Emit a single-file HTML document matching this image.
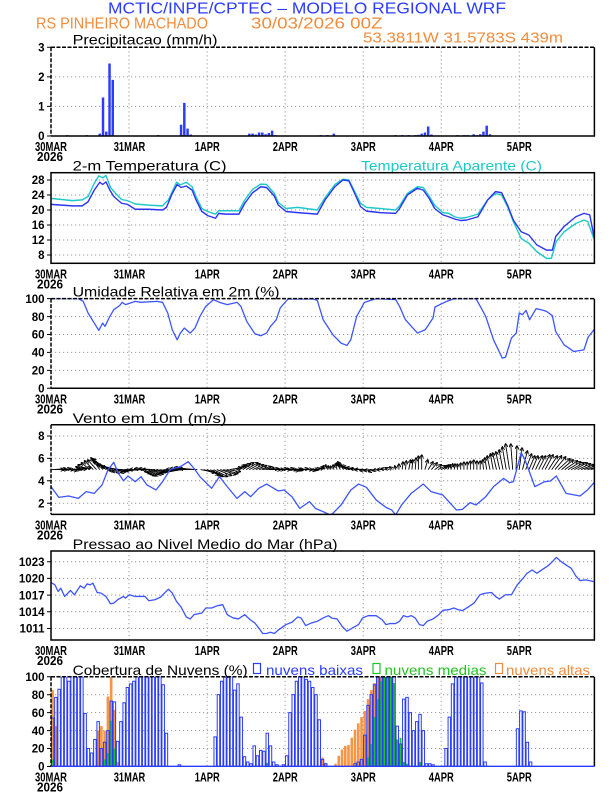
<!DOCTYPE html>
<html><head><meta charset="utf-8"><style>html,body{margin:0;padding:0;background:#fff}svg{display:block}</style></head>
<body>
<svg width="612" height="792" viewBox="0 0 612 792" xmlns="http://www.w3.org/2000/svg" font-family="'Liberation Sans', sans-serif">
<rect width="612" height="792" fill="#fff"/>
<defs>
<clipPath id="c0"><rect x="51" y="47.3" width="543.4" height="88.7"/></clipPath>
<clipPath id="c1"><rect x="51" y="172.7" width="543.4" height="90.6"/></clipPath>
<clipPath id="c2"><rect x="51" y="298.6" width="543.4" height="89.7"/></clipPath>
<clipPath id="c3"><rect x="51" y="424.8" width="543.4" height="89.6"/></clipPath>
<clipPath id="c4"><rect x="51" y="551" width="543.4" height="89"/></clipPath>
<clipPath id="c5"><rect x="51" y="676.7" width="543.4" height="89.8"/></clipPath>
<marker id="ah" viewBox="0 0 6 6" refX="5.5" refY="3" markerWidth="4" markerHeight="4" orient="auto" markerUnits="userSpaceOnUse"><path d="M0 0L6 3L0 6" fill="none" stroke="#000" stroke-width="1.4"/></marker>
</defs>

<!-- header -->
<text x="108" y="13.3" font-size="16" fill="#2a3cff" textLength="398" lengthAdjust="spacingAndGlyphs">MCTIC/INPE/CPTEC – MODELO REGIONAL WRF</text>
<text x="36" y="28.3" font-size="16" fill="#f08c3c" textLength="172" lengthAdjust="spacingAndGlyphs">RS PINHEIRO MACHADO</text>
<text x="251" y="28.3" font-size="16" fill="#f08c3c" textLength="131.5" lengthAdjust="spacingAndGlyphs">30/03/2026 00Z</text>
<text x="363" y="42.7" font-size="15" fill="#f08c3c" textLength="200" lengthAdjust="spacingAndGlyphs">53.3811W 31.5783S 439m</text>

<!-- panel titles -->
<g font-size="14" fill="#000">
<text x="72.6" y="44.5" textLength="145" lengthAdjust="spacingAndGlyphs">Precipitacao (mm/h)</text>
<text x="72.6" y="170.5" textLength="154" lengthAdjust="spacingAndGlyphs">2-m Temperatura (C)</text>
<text x="361" y="170.5" fill="#1fc8c8" textLength="181" lengthAdjust="spacingAndGlyphs">Temperatura Aparente (C)</text>
<text x="72.6" y="296.7" textLength="207" lengthAdjust="spacingAndGlyphs">Umidade Relativa em 2m (%)</text>
<text x="72.6" y="423" textLength="154" lengthAdjust="spacingAndGlyphs">Vento em 10m (m/s)</text>
<text x="72.6" y="549" textLength="265" lengthAdjust="spacingAndGlyphs">Pressao ao Nivel Medio do Mar (hPa)</text>
<text x="72.6" y="675" textLength="175" lengthAdjust="spacingAndGlyphs">Cobertura de Nuvens (%)</text>
<rect x="253.5" y="663.5" width="7" height="10" fill="none" stroke="#2a3cff" stroke-width="1.2"/>
<text x="266" y="675" fill="#2a3cff" textLength="97" lengthAdjust="spacingAndGlyphs">nuvens baixas</text>
<rect x="373" y="663.5" width="7" height="10" fill="none" stroke="#22c422" stroke-width="1.2"/>
<text x="384.5" y="675" fill="#22c422" textLength="102" lengthAdjust="spacingAndGlyphs">nuvens medias</text>
<rect x="495.5" y="663.5" width="7" height="10" fill="none" stroke="#f08c3c" stroke-width="1.2"/>
<text x="506" y="675" fill="#f08c3c" textLength="84" lengthAdjust="spacingAndGlyphs">nuvens altas</text>
</g>

<!-- grids -->
<g stroke="#999" stroke-width="1" stroke-dasharray="1.2 2.8" fill="none">
<path d="M129.04 47.3V136M207.07 47.3V136M285.11 47.3V136M363.15 47.3V136M441.18 47.3V136M519.22 47.3V136M51 106.4H594.4M51 76.9H594.4"/>
<path d="M129.04 172.7V263.3M207.07 172.7V263.3M285.11 172.7V263.3M363.15 172.7V263.3M441.18 172.7V263.3M519.22 172.7V263.3M51 180H594.4M51 195H594.4M51 210H594.4M51 225H594.4M51 240H594.4M51 255H594.4"/>
<path d="M129.04 298.6V388.3M207.07 298.6V388.3M285.11 298.6V388.3M363.15 298.6V388.3M441.18 298.6V388.3M519.22 298.6V388.3M51 316.6H594.4M51 334.5H594.4M51 352.4H594.4M51 370.4H594.4"/>
<path d="M129.04 424.8V514.4M207.07 424.8V514.4M285.11 424.8V514.4M363.15 424.8V514.4M441.18 424.8V514.4M519.22 424.8V514.4M51 436H594.4M51 458.4H594.4M51 480.8H594.4M51 503.2H594.4"/>
<path d="M129.04 551V640M207.07 551V640M285.11 551V640M363.15 551V640M441.18 551V640M519.22 551V640M51 561.7H594.4M51 578.4H594.4M51 595.1H594.4M51 611.8H594.4M51 628.5H594.4"/>
<path d="M129.04 676.7V766.5M207.07 676.7V766.5M285.11 676.7V766.5M363.15 676.7V766.5M441.18 676.7V766.5M519.22 676.7V766.5M51 694.7H594.4M51 712.6H594.4M51 730.6H594.4M51 748.5H594.4"/>
</g>

<!-- precip bars -->
<g clip-path="url(#c0)"><g transform="matrix(3.2515 0 0 -29.57 51 136)">
<path fill="#2a3cff" d="M4.62 0V.03H5.38V0ZM10.62 0V.03H11.38V0ZM14.62 0V.08H15.38V0ZM15.62 0V1.3H16.38V0ZM16.62 0V.15H17.38V0ZM17.62 0V2.45H18.38V0ZM18.62 0V1.9H19.38V0ZM32.62 0V.03H33.38V0ZM39.62 0V.38H40.38V0ZM40.62 0V1.12H41.38V0ZM41.62 0V.25H42.38V0ZM42.62 0V.05H43.38V0ZM60.62 0V.08H61.38V0ZM61.62 0V.08H62.38V0ZM62.62 0V.05H63.38V0ZM63.62 0V.12H64.38V0ZM64.62 0V.12H65.38V0ZM65.62 0V.06H66.38V0ZM66.62 0V.1H67.38V0ZM67.62 0V.18H68.38V0ZM68.62 0V.03H69.38V0ZM82.62 0V.03H83.38V0ZM84.62 0V.03H85.38V0ZM86.62 0V.08H87.38V0ZM105.62 0V.03H106.38V0ZM107.62 0V.03H108.38V0ZM109.62 0V.03H110.38V0ZM111.62 0V.03H112.38V0ZM112.62 0V.04H113.38V0ZM113.62 0V.08H114.38V0ZM114.62 0V.12H115.38V0ZM115.62 0V.32H116.38V0ZM116.62 0V.05H117.38V0ZM124.62 0V.03H125.38V0ZM126.62 0V.03H127.38V0ZM127.62 0V.03H128.38V0ZM129.62 0V.06H130.38V0ZM130.62 0V.03H131.38V0ZM131.62 0V.06H132.38V0ZM132.62 0V.15H133.38V0ZM133.62 0V.35H134.38V0ZM134.62 0V.06H135.38V0Z"/>
</g></g>

<!-- temperature -->
<g clip-path="url(#c1)"><g transform="matrix(3.2515 0 0 -3.75 51 285)" fill="none" stroke-width="1.4" stroke-linejoin="round">
<polyline vector-effect="non-scaling-stroke" stroke="#1fc8c8" points="0,23.1 6.6,22.5 9.6,22.7 11.4,23.6 13.3,27.1 14.7,29.1 15.9,28.6 16.9,29.2 18.3,26 19.9,24.4 21.7,22.8 23.5,22.5 25.9,21.6 30,21.3 34.3,21.1 36.1,22.7 38.6,27.4 39.8,26.7 41.6,27.4 43.4,26.2 44.6,23.6 46.4,20.4 48.2,19.6 50.6,18.9 51.6,19.8 53.6,19.8 57.8,19.8 59.6,22.7 62,25.5 64.5,26.9 66.3,26.8 68.7,24.4 69.9,22 72.3,20.4 75.9,20.7 81.9,20 84.3,23.3 87.3,26.8 89.8,28.2 91.6,28 93.4,24.9 95.2,21.8 97,20.7 101.2,20.4 106,20 107.2,21.1 109.6,24.4 112.7,26.2 114.5,26 116.3,23.7 118,21.3 120.5,19.3 122.3,19.1 124.1,18.2 125.9,17.8 127.7,18 131.3,18.9 134.3,22.7 136.7,24.4 138.6,24 140.4,20.9 142.2,16.9 144.6,12.4 147,11.1 149.4,8.9 152.4,7.1 153.9,7.1 155.4,11.6 157.8,14.2 161.4,16.4 163.9,17.3 165.1,16.9 167,12.2"/>
<polyline vector-effect="non-scaling-stroke" stroke="#2b35f0" points="0,21.5 6.6,21.1 9.6,21.1 11.4,22.2 13.3,25.3 15,27.4 15.9,26.8 16.9,27.5 18.1,25.3 19.3,23.6 21.7,21.8 23.5,21.5 25.9,20.2 30,20.2 34.3,20 35.5,20.7 37.3,24.4 38.8,26.8 40,26 41.6,26.4 43.4,25.3 44.6,22.7 46.4,19.6 48.2,18.5 50.6,17.8 51.6,19.1 53.6,18.9 57.8,18.9 59.6,21.8 62,24.6 64.5,26.2 66.3,26 68.7,23.7 69.9,21.3 72.3,19.6 75.9,19.3 81.9,18.9 84.3,22.7 87.3,26.2 89.8,28 91.6,27.8 93.4,24.4 95.2,20.9 97,19.7 101.2,19.3 106,19.1 107.2,20.4 109.6,24 112.7,25.8 114.5,25.3 116.3,23.1 118,20.4 120.5,18.7 122.3,18.2 124.1,17.6 125.9,17.2 127.7,17.3 131.3,18.2 134.3,22.7 136.7,24.9 138.6,24.6 140.4,21.3 142.2,17.3 144.6,14.2 147,13.3 149.4,10.7 152.4,9.3 154.2,9.3 155.2,12.9 157.8,15.6 161.4,18.2 163.9,19.1 165.7,18.7 167,12.9"/>
</g></g>

<!-- RH -->
<g clip-path="url(#c2)"><g transform="matrix(3.2515 0 0 -0.8965 51 388.3)" fill="none" stroke-width="1.3" stroke-linejoin="round">
<polyline vector-effect="non-scaling-stroke" stroke="#3d55ff" points="0,100 8.4,100 9.9,97 11.4,84 13.3,72.8 14.7,64.6 15.9,72.8 16.6,69 18.1,80.2 19.3,87.7 21.1,92.2 21.9,95.9 22.9,93.3 25.9,97 27.7,95.9 32.5,97 34.3,95.9 35.9,84 37.3,65.3 38.8,54.1 39.8,61.6 41,67.2 42.8,61.6 44.3,67.2 45.8,80.2 47.6,91.4 50,98.9 51.8,95.9 54.2,93.3 57.2,95.9 58.4,91.4 60.2,74.6 62.7,60.8 64.5,58.6 66.3,61.6 67.5,69 69.3,76.5 70.5,89.6 72.9,99.6 80.7,99.6 81.9,98 83.7,76.5 86.7,59.7 89.2,50.4 91,47.8 92.2,54.1 94,80.2 96.4,95.9 100,100 106,98.9 107.2,91.4 109,76.5 112.7,61.6 115.1,65.3 117.5,78.4 118.1,90.7 121.7,97 124,100 130.7,100 132.3,89.6 133.7,80.2 136.1,54.1 138.8,33.6 139.8,34.7 141.6,56 143.1,61.6 144,84 145,82.1 146.1,86.9 147.2,76.5 149.2,88.8 150.6,87.7 152.4,85.8 154.2,81 155.2,63.4 157.8,48.5 160.8,41 163.9,42.9 165.2,57.1 167,65.3"/>
</g></g>

<!-- wind -->
<g clip-path="url(#c3)">
<g transform="translate(51 469.6)" fill="none" stroke="#000" stroke-width="0.9" marker-end="url(#ah)">
<path d="M0 0l13 0"/><path d="M3.3 0l12 -1"/><path d="M6.5 0l10 0"/><path d="M9.8 0l10 -1"/><path d="M13 0l10 0"/><path d="M16.3 0l10 1"/><path d="M19.5 0l10 0"/><path d="M22.8 0l10 -1"/><path d="M26 0l10 -1"/><path d="M29.3 0l11 -2"/>
<path d="M32.5 0l-8 -3"/><path d="M35.8 0l-9 -5"/><path d="M39 0l-9 -7"/><path d="M42.3 0l-9 -9"/><path d="M45.5 0l-9 -10"/><path d="M48.8 0l-9 -12"/><path d="M52 0l-11 -11"/><path d="M55.3 0l-14 -11"/><path d="M58.5 0l-17 -10"/><path d="M61.8 0l-20 -8"/>
<path d="M65 0l-19 -5"/><path d="M68.3 0l-18 -3"/><path d="M71.5 0l-16 -1"/><path d="M74.8 0l-17 1"/><path d="M78 0l-17 2"/><path d="M81.3 0l-16 3"/><path d="M84.5 0l-15 3"/><path d="M87.8 0l-16 2"/><path d="M91 0l-17 1"/><path d="M94.3 0l-16 0"/>
<path d="M97.5 0l-14 -1"/><path d="M100.8 0l-13 -1"/><path d="M104 0l-13 0"/><path d="M107.3 0l-14 2"/><path d="M110.6 0l-15 3"/><path d="M113.8 0l-17 4"/><path d="M117.1 0l-18 5"/><path d="M120.3 0l-19 6"/><path d="M123.6 0l-20 6"/><path d="M126.8 0l-20 5"/>
<path d="M130.1 0l-21 4"/><path d="M133.3 0l-22 2"/><path d="M136.6 0l-22 0"/><path d="M139.8 0l-21 -1"/><path d="M143.1 0l-20 -2"/><path d="M146.3 0l-18 -1"/><path d="M149.6 0l15 3"/><path d="M152.8 0l15 5"/><path d="M156.1 0l14 6"/><path d="M159.3 0l13 7"/>
<path d="M162.6 0l14 7"/><path d="M165.8 0l15 6"/><path d="M169.1 0l16 5"/><path d="M172.3 0l15 4"/><path d="M175.6 0l14 2"/><path d="M178.8 0l12 -2"/><path d="M182.1 0l12 -4"/><path d="M185.3 0l11 -5"/><path d="M188.6 0l11 -6"/><path d="M191.8 0l11 -7"/>
<path d="M195.1 0l12 -7"/><path d="M198.3 0l11 -6"/><path d="M201.6 0l11 -5"/><path d="M204.8 0l11 -4"/><path d="M208.1 0l12 -3"/><path d="M211.3 0l12 -2"/><path d="M214.6 0l13 -1"/><path d="M217.9 0l12 0"/><path d="M221.1 0l12 0"/><path d="M224.4 0l12 -1"/>
<path d="M227.6 0l12 0"/><path d="M230.9 0l12 -1"/><path d="M234.1 0l12 0"/><path d="M237.4 0l11 1"/><path d="M240.6 0l10 0"/><path d="M243.9 0l8 0"/><path d="M247.1 0l6 0"/><path d="M250.4 0l7 -1"/><path d="M253.6 0l8 0"/><path d="M256.9 0l8 1"/>
<path d="M260.1 0l7 0"/><path d="M263.4 0l6 -1"/><path d="M266.6 0l6 -2"/><path d="M269.9 0l3 -4"/><path d="M273.1 0l2 -5"/><path d="M276.4 0l1 -4"/><path d="M279.6 0l0 -4"/><path d="M282.9 0l-1 -5"/><path d="M286.1 0l-2 -6"/><path d="M289.4 0l-4 -7"/>
<path d="M292.6 0l-6 -8"/><path d="M295.9 0l-10 -6"/><path d="M299.1 0l-12 -5"/><path d="M302.4 0l-13 -4"/><path d="M305.6 0l-14 -3"/><path d="M308.9 0l-14 -2"/><path d="M312.1 0l-13 -1"/><path d="M315.4 0l-12 0"/><path d="M318.6 0l-10 1"/><path d="M321.9 0l-9 1"/>
<path d="M325.2 0l-8 2"/><path d="M328.4 0l-7 1"/><path d="M331.7 0l-6 0"/><path d="M334.9 0l-5 -1"/><path d="M338.2 0l-4 -2"/><path d="M341.4 0l-3 -3"/><path d="M344.7 0l-1 -4"/><path d="M347.9 0l0 -6"/><path d="M351.2 0l1 -8"/><path d="M354.4 0l1 -9"/>
<path d="M357.7 0l2 -10"/><path d="M360.9 0l1 -10"/><path d="M364.2 0l1 -12"/><path d="M367.4 0l0 -14"/><path d="M370.7 0l0 -15"/><path d="M373.9 0l3 -10"/><path d="M377.2 0l5 -8"/><path d="M380.4 0l6 -7"/><path d="M383.7 0l7 -5"/><path d="M386.9 0l8 -4"/>
<path d="M390.2 0l7 -4"/><path d="M393.4 0l5 -5"/><path d="M396.7 0l3 -5"/><path d="M399.9 0l2 -6"/><path d="M403.2 0l1 -6"/><path d="M406.4 0l0 -6"/><path d="M409.7 0l0 -7"/><path d="M412.9 0l0 -8"/><path d="M416.2 0l0 -8"/><path d="M419.4 0l0 -9"/>
<path d="M422.7 0l0 -10"/><path d="M425.9 0l0 -9"/><path d="M429.2 0l0 -9"/><path d="M432.5 0l-1 -10"/><path d="M435.7 0l-2 -12"/><path d="M439 0l-3 -14"/><path d="M442.2 0l-3 -16"/><path d="M445.5 0l-4 -17"/><path d="M448.7 0l-4 -18"/><path d="M452 0l-4 -20"/>
<path d="M455.2 0l-4 -23"/><path d="M458.5 0l-4 -26"/><path d="M461.7 0l-2 -26"/><path d="M465 0l1 -24"/><path d="M468.2 0l3 -22"/><path d="M471.5 0l5 -19"/><path d="M474.7 0l6 -16"/><path d="M478 0l6 -14"/><path d="M481.2 0l6 -14"/><path d="M484.5 0l7 -14"/>
<path d="M487.7 0l7 -14"/><path d="M491 0l8 -15"/><path d="M494.2 0l8 -15"/><path d="M497.5 0l9 -14"/><path d="M500.7 0l10 -14"/><path d="M504 0l11 -13"/><path d="M507.2 0l12 -11"/><path d="M510.5 0l12 -10"/><path d="M513.7 0l13 -9"/><path d="M517 0l13 -8"/>
<path d="M520.2 0l13 -7"/><path d="M523.5 0l13 -7"/><path d="M526.7 0l13 -6"/><path d="M530 0l13 -5"/><path d="M533.3 0l12 -4"/><path d="M536.5 0l12 -3"/><path d="M539.8 0l11 -3"/><path d="M543 0l10 -2"/>
</g>
<g transform="matrix(3.2515 0 0 -11.2 51 525.6)" fill="none" stroke-width="1.3" stroke-linejoin="round">
<polyline vector-effect="non-scaling-stroke" stroke="#3d55ff" points="0,3.48 2.4,2.52 5.4,2.64 8.4,2.43 10.8,3.03 13.3,2.88 15.7,3.63 17.5,4.96 19.3,5.65 20.7,4.67 22.3,4 23.7,4.43 25.9,3.92 27.7,4.37 29.5,3.63 32.3,3.18 34.3,3.92 36.7,5.02 39.8,5.26 42.2,5.71 44,5.11 45.8,4.37 49.4,3.33 51.8,4.37 54.2,3.48 57.2,2.43 59.6,3.03 61.4,2.58 63.9,3.33 66.3,3.71 69.9,3.09 71.7,3.18 74.1,2.58 76.5,1.54 79.5,2.14 81.3,1.54 83.7,1.24 86.1,0.92 89.2,1.84 92.2,3.18 94.6,3.71 97,3.42 100,2.29 103,1.63 104.8,1.39 106,0.95 107.8,1.84 110.8,2.88 114.5,3.71 116.9,3.03 120.5,2.73 124.7,1.39 126.5,1.45 128.9,2.05 130.7,1.84 133.7,2.58 136.1,3.48 139.2,4.22 141,3.83 142.2,3.92 144.6,6.51 145.8,5.86 148.8,3.48 151.8,3.92 153.6,3.98 155.4,4.43 158.4,2.88 162.7,2.64 165,3.18 167,3.83"/>
</g>
</g>

<!-- pressure -->
<g clip-path="url(#c4)"><g transform="matrix(3.2515 0 0 -5.57 51 689.8)" fill="none" stroke-width="1.3" stroke-linejoin="round">
<polyline vector-effect="non-scaling-stroke" stroke="#3d55ff" points="0,19.26 1.2,18.84 2.2,17.65 3,18.25 4.2,16.76 6,17.83 7.2,17.06 9,18.66 10.2,18.25 11.1,19.02 12,18.84 12.9,19.14 14.2,17.47 15.4,17.36 16.9,16.76 18.3,15.45 19.3,15.57 20.5,16.17 22.3,16.76 22.9,16.46 24.1,17.06 25.9,16.76 28.9,16.76 30.1,15.99 31.9,16.17 33.7,16.64 34.9,17.36 36.1,18.07 37.3,17.36 38.6,15.87 40,14.86 41.6,13.08 42.8,12.72 44,13.49 46.4,13.79 47.6,14.68 49.4,14.68 51.2,15.1 52.8,15.28 54.2,13.49 56,12.9 57.6,12.72 59.6,13.49 61.2,12.6 62.7,12 64.1,10.94 65.1,10.11 66.3,10.11 67.5,10.34 68.7,10.11 70.1,10.82 72.3,11.71 74.1,12.13 75.9,13.08 76.9,12.9 78.3,11.53 80.1,12 81.9,12.3 83.7,12.9 85.3,13.31 86.5,12.84 88,12.72 89.5,11.41 91,10.52 92.8,11.12 94.6,11.71 95.8,12.9 97.6,13.31 100,13.31 101.8,12.6 103,11.71 104.2,11.89 106,11.89 107.2,12.3 108.4,13.31 109.6,13.08 110.8,13.31 112,12.9 113.3,11.71 114.5,11.53 115.7,12.3 117.5,12.72 119.3,13.49 120.5,14.27 122.3,14.38 123.9,14.68 125.3,14.38 126.5,14.21 128.3,14.86 130.1,15.57 131.9,17.06 133.7,17.36 135.5,17.47 136.7,16.76 137.9,16.29 139.8,17.06 141.6,17.06 143.4,18.84 145.2,20.03 146.4,20.92 148,21.51 149.4,20.92 151.2,21.63 152.8,22.23 154.2,23 155.4,23.77 156.9,23 158.4,22.41 160,21.81 161.4,20.44 162.7,19.61 164.5,19.73 166.9,19.43"/>
</g></g>

<!-- clouds -->
<g clip-path="url(#c5)"><g transform="matrix(3.2515 0 0 -0.898 51 766.5)">
<path fill="#f59545" d="M.1 0V85H.9V0ZM1.1 0V45H1.9V0ZM14.1 0V40H14.9V0ZM15.1 0V45H15.9V0ZM16.1 0V40H16.9V0ZM17.1 0V78H17.9V0ZM18.1 0V100H18.9V0ZM19.1 0V63H19.9V0ZM20.1 0V5H20.9V0ZM66.1 0V3H66.9V0ZM83.1 0V10H83.9V0ZM84.1 0V4H84.9V0ZM87.1 0V3H87.9V0ZM88.1 0V12H88.9V0ZM89.1 0V19H89.9V0ZM90.1 0V23H90.9V0ZM91.1 0V24H91.9V0ZM92.1 0V32H92.9V0ZM93.1 0V41H93.9V0ZM94.1 0V48H94.9V0ZM95.1 0V55H95.9V0ZM96.1 0V62H96.9V0ZM97.1 0V75H97.9V0ZM98.1 0V85H98.9V0ZM99.1 0V93H99.9V0ZM100.1 0V100H100.9V0ZM101.1 0V100H101.9V0ZM102.1 0V90H102.9V0ZM103.1 0V60H103.9V0ZM104.1 0V40H104.9V0ZM105.1 0V15H105.9V0Z"/>
<path fill="#22c422" d="M.2 0V8H.8V0ZM16.2 0V8H16.8V0ZM17.2 0V15H17.8V0ZM18.2 0V51H18.8V0ZM19.2 0V20H19.8V0ZM66.2 0V4H66.8V0ZM97.2 0V10H97.8V0ZM98.2 0V25H98.8V0ZM99.2 0V55H99.8V0ZM100.2 0V75H100.8V0ZM101.2 0V95H101.8V0ZM102.2 0V100H102.8V0ZM103.2 0V100H103.8V0ZM104.2 0V100H104.8V0ZM105.2 0V93H105.8V0ZM106.2 0V30H106.8V0ZM107.2 0V32H107.8V0ZM108.2 0V5H108.8V0ZM109.2 0V3H109.8V0ZM113.2 0V5H113.8V0Z"/>
<path vector-effect="non-scaling-stroke" fill="none" stroke="#2a3cff" stroke-width="1" d="M.12 0V54H.88V0M1.12 0V77H1.88V0M2.12 0V86H2.88V0M3.12 0V100H3.88V0M4.12 0V100H4.88V0M5.12 0V95H5.88V0M6.12 0V100H6.88V0M7.12 0V100H7.88V0M8.12 0V100H8.88V0M9.12 0V100H9.88V0M10.12 0V59H10.88V0M11.12 0V20H11.88V0M12.12 0V15H12.88V0M13.12 0V30H13.88V0M14.12 0V50H14.88V0M15.12 0V20H15.88V0M16.12 0V27H16.88V0M17.12 0V40H17.88V0M18.12 0V73H18.88V0M19.12 0V72H19.88V0M20.12 0V28H20.88V0M21.12 0V50H21.88V0M22.12 0V71H22.88V0M23.12 0V88H23.88V0M24.12 0V92H24.88V0M25.12 0V95H25.88V0M26.12 0V100H26.88V0M27.12 0V100H27.88V0M28.12 0V100H28.88V0M29.12 0V100H29.88V0M30.12 0V100H30.88V0M31.12 0V100H31.88V0M32.12 0V100H32.88V0M33.12 0V100H33.88V0M34.12 0V91H34.88V0M35.12 0V37H35.88V0M39.12 0V2H39.88V0M50.12 0V33H50.88V0M51.12 0V80H51.88V0M52.12 0V95H52.88V0M53.12 0V100H53.88V0M54.12 0V100H54.88V0M55.12 0V100H55.88V0M56.12 0V85H56.88V0M57.12 0V92H57.88V0M58.12 0V55H58.88V0M59.12 0V11H59.88V0M60.12 0V5H60.88V0M61.12 0V3H61.88V0M62.12 0V23H62.88V0M63.12 0V12H63.88V0M64.12 0V18H64.88V0M65.12 0V17H65.88V0M66.12 0V37H66.88V0M67.12 0V23H67.88V0M68.12 0V5H68.88V0M69.12 0V2H69.88V0M71.12 0V2H71.88V0M72.12 0V12H72.88V0M73.12 0V60H73.88V0M74.12 0V80H74.88V0M75.12 0V95H75.88V0M76.12 0V100H76.88V0M77.12 0V100H77.88V0M78.12 0V97H78.88V0M79.12 0V95H79.88V0M80.12 0V88H80.88V0M81.12 0V80H81.88V0M82.12 0V52H82.88V0M83.12 0V8H83.88V0M84.12 0V3H84.88V0M93.12 0V3H93.88V0M94.12 0V5H94.88V0M95.12 0V8H95.88V0M96.12 0V35H96.88V0M97.12 0V68H97.88V0M98.12 0V80H98.88V0M99.12 0V91H99.88V0M100.12 0V100H100.88V0M101.12 0V100H101.88V0M102.12 0V100H102.88V0M103.12 0V100H103.88V0M104.12 0V100H104.88V0M105.12 0V100H105.88V0M106.12 0V45H106.88V0M107.12 0V25H107.88V0M108.12 0V75H108.88V0M109.12 0V77H109.88V0M110.12 0V60H110.88V0M111.12 0V40H111.88V0M112.12 0V50H112.88V0M113.12 0V58H113.88V0M114.12 0V40H114.88V0M115.12 0V3H115.88V0M116.12 0V3H116.88V0M117.12 0V2H117.88V0M121.12 0V20H121.88V0M122.12 0V55H122.88V0M123.12 0V92H123.88V0M124.12 0V100H124.88V0M125.12 0V100H125.88V0M126.12 0V100H126.88V0M127.12 0V100H127.88V0M128.12 0V100H128.88V0M129.12 0V100H129.88V0M130.12 0V100H130.88V0M131.12 0V100H131.88V0M132.12 0V93H132.88V0M133.12 0V5H133.88V0M143.12 0V42H143.88V0M144.12 0V62H144.88V0M145.12 0V61H145.88V0M146.12 0V27H146.88V0M147.12 0V5H147.88V0"/>
</g></g>

<!-- frames -->
<g fill="none" stroke="#000" stroke-width="1.5">
<path d="M51 136H594.4V47.3"/><path d="M51 47.3H594.4M51 47.3V136" stroke-dasharray="4 1.5"/>
<rect x="51" y="172.7" width="543.4" height="90.6"/>
<path d="M51 388.3H594.4V298.6"/><path d="M51 298.6H594.4M51 298.6V388.3" stroke-dasharray="4 1.5"/>
<path d="M51 514.4H594.4V424.8H51"/><path d="M51 424.8V514.4" stroke-dasharray="4 1.5"/>
<rect x="51" y="551" width="543.4" height="89"/>
<path d="M594.4 766.5V676.7"/><path d="M51 676.7H594.4M51 676.7V766.5" stroke-dasharray="4 1.5"/>
</g>
<path d="M51 766.3H594.4" stroke="#2a3cff" stroke-width="1.4"/>

<!-- y ticks -->
<g stroke="#000" stroke-width="1">
<path d="M47 47.3H51M47 76.9H51M47 106.4H51M47 136H51"/>
<path d="M47 180H51M47 195H51M47 210H51M47 225H51M47 240H51M47 255H51"/>
<path d="M47 298.6H51M47 316.6H51M47 334.5H51M47 352.4H51M47 370.4H51M47 388.3H51"/>
<path d="M47 436H51M47 458.4H51M47 480.8H51M47 503.2H51"/>
<path d="M47 561.7H51M47 578.4H51M47 595.1H51M47 611.8H51M47 628.5H51"/>
<path d="M47 676.7H51M47 694.7H51M47 712.6H51M47 730.6H51M47 748.5H51M47 766.5H51"/>
</g>

<!-- y labels -->
<g font-size="11.5" font-weight="bold" text-anchor="end" fill="#000">
<text x="44.5" y="51.5">3</text><text x="44.5" y="81.1">2</text><text x="44.5" y="110.6">1</text><text x="44.5" y="140.2">0</text>
<text x="44.5" y="184.2">28</text><text x="44.5" y="199.2">24</text><text x="44.5" y="214.2">20</text><text x="44.5" y="229.2">16</text><text x="44.5" y="244.2">12</text><text x="44.5" y="259.2">8</text>
<text x="44.5" y="302.8">100</text><text x="44.5" y="320.8">80</text><text x="44.5" y="338.7">60</text><text x="44.5" y="356.6">40</text><text x="44.5" y="374.6">20</text><text x="44.5" y="392.5">0</text>
<text x="44.5" y="440.2">8</text><text x="44.5" y="462.6">6</text><text x="44.5" y="485">4</text><text x="44.5" y="507.4">2</text>
<text x="44.5" y="565.9">1023</text><text x="44.5" y="582.6">1020</text><text x="44.5" y="599.3">1017</text><text x="44.5" y="616">1014</text><text x="44.5" y="632.7">1011</text>
<text x="44.5" y="680.9">100</text><text x="44.5" y="698.9">80</text><text x="44.5" y="716.8">60</text><text x="44.5" y="734.8">40</text><text x="44.5" y="752.7">20</text><text x="44.5" y="770.7">0</text>
</g>

<!-- x labels -->
<g font-size="13" font-weight="bold" text-anchor="middle" fill="#000" lengthAdjust="spacingAndGlyphs">
<g transform="translate(0 151.2)">
<text x="51" textLength="32" lengthAdjust="spacingAndGlyphs">30MAR</text><text x="50" y="10" textLength="26" lengthAdjust="spacingAndGlyphs">2026</text><text x="129.5" textLength="31.5" lengthAdjust="spacingAndGlyphs">31MAR</text><text x="207.3" textLength="25" lengthAdjust="spacingAndGlyphs">1APR</text><text x="285.3" textLength="25" lengthAdjust="spacingAndGlyphs">2APR</text><text x="363.3" textLength="25" lengthAdjust="spacingAndGlyphs">3APR</text><text x="441.3" textLength="25" lengthAdjust="spacingAndGlyphs">4APR</text><text x="519.3" textLength="25" lengthAdjust="spacingAndGlyphs">5APR</text>
</g>
<g transform="translate(0 278.5)">
<text x="51" textLength="32" lengthAdjust="spacingAndGlyphs">30MAR</text><text x="50" y="10" textLength="26" lengthAdjust="spacingAndGlyphs">2026</text><text x="129.5" textLength="31.5" lengthAdjust="spacingAndGlyphs">31MAR</text><text x="207.3" textLength="25" lengthAdjust="spacingAndGlyphs">1APR</text><text x="285.3" textLength="25" lengthAdjust="spacingAndGlyphs">2APR</text><text x="363.3" textLength="25" lengthAdjust="spacingAndGlyphs">3APR</text><text x="441.3" textLength="25" lengthAdjust="spacingAndGlyphs">4APR</text><text x="519.3" textLength="25" lengthAdjust="spacingAndGlyphs">5APR</text>
</g>
<g transform="translate(0 403.5)">
<text x="51" textLength="32" lengthAdjust="spacingAndGlyphs">30MAR</text><text x="50" y="10" textLength="26" lengthAdjust="spacingAndGlyphs">2026</text><text x="129.5" textLength="31.5" lengthAdjust="spacingAndGlyphs">31MAR</text><text x="207.3" textLength="25" lengthAdjust="spacingAndGlyphs">1APR</text><text x="285.3" textLength="25" lengthAdjust="spacingAndGlyphs">2APR</text><text x="363.3" textLength="25" lengthAdjust="spacingAndGlyphs">3APR</text><text x="441.3" textLength="25" lengthAdjust="spacingAndGlyphs">4APR</text><text x="519.3" textLength="25" lengthAdjust="spacingAndGlyphs">5APR</text>
</g>
<g transform="translate(0 529.6)">
<text x="51" textLength="32" lengthAdjust="spacingAndGlyphs">30MAR</text><text x="50" y="10" textLength="26" lengthAdjust="spacingAndGlyphs">2026</text><text x="129.5" textLength="31.5" lengthAdjust="spacingAndGlyphs">31MAR</text><text x="207.3" textLength="25" lengthAdjust="spacingAndGlyphs">1APR</text><text x="285.3" textLength="25" lengthAdjust="spacingAndGlyphs">2APR</text><text x="363.3" textLength="25" lengthAdjust="spacingAndGlyphs">3APR</text><text x="441.3" textLength="25" lengthAdjust="spacingAndGlyphs">4APR</text><text x="519.3" textLength="25" lengthAdjust="spacingAndGlyphs">5APR</text>
</g>
<g transform="translate(0 655.2)">
<text x="51" textLength="32" lengthAdjust="spacingAndGlyphs">30MAR</text><text x="50" y="10" textLength="26" lengthAdjust="spacingAndGlyphs">2026</text><text x="129.5" textLength="31.5" lengthAdjust="spacingAndGlyphs">31MAR</text><text x="207.3" textLength="25" lengthAdjust="spacingAndGlyphs">1APR</text><text x="285.3" textLength="25" lengthAdjust="spacingAndGlyphs">2APR</text><text x="363.3" textLength="25" lengthAdjust="spacingAndGlyphs">3APR</text><text x="441.3" textLength="25" lengthAdjust="spacingAndGlyphs">4APR</text><text x="519.3" textLength="25" lengthAdjust="spacingAndGlyphs">5APR</text>
</g>
<g transform="translate(0 781.7)">
<text x="51" textLength="32" lengthAdjust="spacingAndGlyphs">30MAR</text><text x="50" y="10" textLength="26" lengthAdjust="spacingAndGlyphs">2026</text><text x="129.5" textLength="31.5" lengthAdjust="spacingAndGlyphs">31MAR</text><text x="207.3" textLength="25" lengthAdjust="spacingAndGlyphs">1APR</text><text x="285.3" textLength="25" lengthAdjust="spacingAndGlyphs">2APR</text><text x="363.3" textLength="25" lengthAdjust="spacingAndGlyphs">3APR</text><text x="441.3" textLength="25" lengthAdjust="spacingAndGlyphs">4APR</text><text x="519.3" textLength="25" lengthAdjust="spacingAndGlyphs">5APR</text>
</g>
</g>
</svg>
</body></html>
